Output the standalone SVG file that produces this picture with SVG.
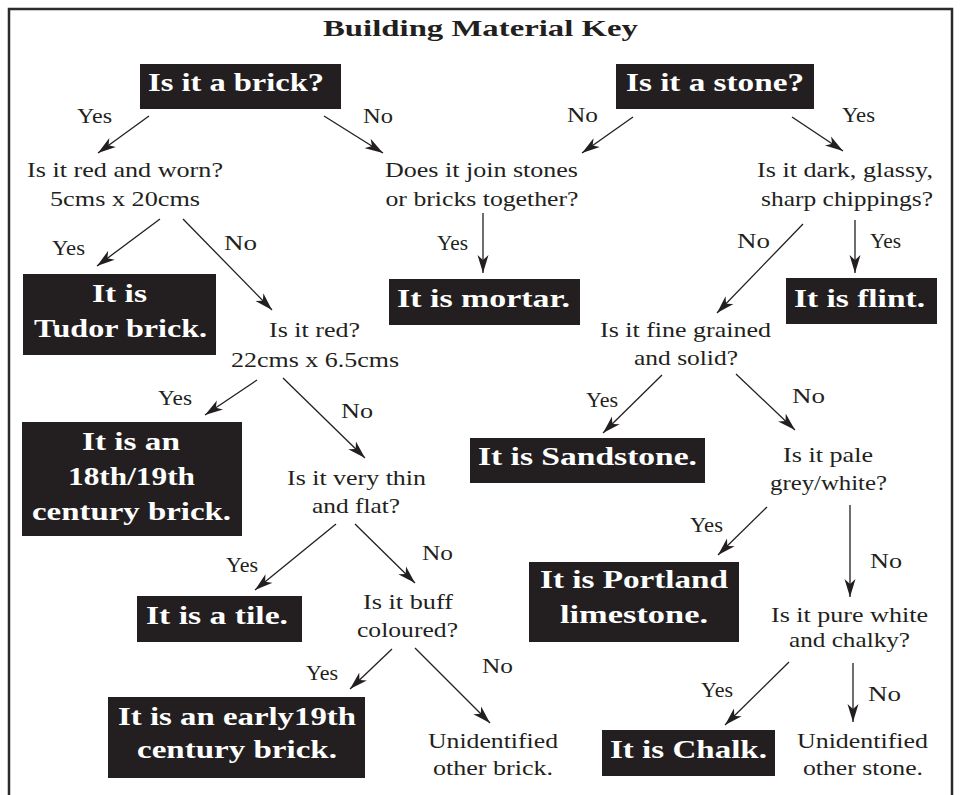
<svg xmlns="http://www.w3.org/2000/svg" width="960" height="795" viewBox="0 0 960 795">
<style>
.box{fill:#231f20}
.bt{font-family:"Liberation Serif","Times New Roman",serif;font-weight:bold;font-size:26px;fill:#ffffff;text-anchor:middle}
.t{font-family:"Liberation Serif","Times New Roman",serif;font-size:22px;fill:#231f20;text-anchor:middle}
.title{font-family:"Liberation Serif","Times New Roman",serif;font-weight:bold;font-size:23px;fill:#231f20;text-anchor:middle}
.c line{stroke:#231f20;stroke-width:1.3;marker-end:url(#ah)}
</style>
<defs>
<marker id="ah" markerUnits="userSpaceOnUse" markerWidth="19" markerHeight="12" refX="18" refY="6" orient="auto" viewBox="0 0 19 12">
<path d="M0,0.5 L18,6 L0,11.5 L5,6 Z" fill="#231f20"/>
</marker>
</defs>
<rect width="960" height="795" fill="#ffffff"/>
<path d="M9,795 V9 H952 V795" fill="none" stroke="#2b2b2b" stroke-width="2.5"/>
<text class="title" x="480.5" y="36" textLength="315" lengthAdjust="spacingAndGlyphs">Building Material Key</text>

<g id="connectors" class="c">
<line x1="149" y1="116" x2="98" y2="153"/>
<line x1="324" y1="116" x2="383" y2="153"/>
<line x1="633" y1="117" x2="582" y2="153"/>
<line x1="792" y1="117" x2="843" y2="151"/>
<line x1="160" y1="219" x2="97" y2="266"/>
<line x1="183" y1="219" x2="272" y2="310"/>
<line x1="483" y1="213" x2="483" y2="273"/>
<line x1="803" y1="224" x2="717" y2="313"/>
<line x1="855" y1="220" x2="855" y2="273"/>
<line x1="257" y1="380" x2="205" y2="415"/>
<line x1="283" y1="378" x2="365" y2="458"/>
<line x1="662" y1="375" x2="603" y2="433"/>
<line x1="736" y1="374" x2="795" y2="430"/>
<line x1="336" y1="524" x2="255" y2="590"/>
<line x1="355" y1="524" x2="415" y2="583"/>
<line x1="392" y1="649" x2="350" y2="689"/>
<line x1="415" y1="648" x2="490" y2="723"/>
<line x1="767" y1="507" x2="718" y2="555"/>
<line x1="850" y1="505" x2="850" y2="597"/>
<line x1="789" y1="662" x2="725" y2="725"/>
<line x1="853" y1="663" x2="853" y2="722"/>
<text class="t" x="94.5" y="123" textLength="35" lengthAdjust="spacingAndGlyphs">Yes</text>
<text class="t" x="378" y="123" textLength="30" lengthAdjust="spacingAndGlyphs">No</text>
<text class="t" x="582.5" y="122" textLength="31" lengthAdjust="spacingAndGlyphs">No</text>
<text class="t" x="858.5" y="122" textLength="33" lengthAdjust="spacingAndGlyphs">Yes</text>
<text class="t" x="68.5" y="255" textLength="33" lengthAdjust="spacingAndGlyphs">Yes</text>
<text class="t" x="240.5" y="250" textLength="33" lengthAdjust="spacingAndGlyphs">No</text>
<text class="t" x="452.5" y="250" textLength="31" lengthAdjust="spacingAndGlyphs">Yes</text>
<text class="t" x="753.5" y="248" textLength="33" lengthAdjust="spacingAndGlyphs">No</text>
<text class="t" x="885.5" y="248" textLength="31" lengthAdjust="spacingAndGlyphs">Yes</text>
<text class="t" x="175" y="405" textLength="34" lengthAdjust="spacingAndGlyphs">Yes</text>
<text class="t" x="357" y="418" textLength="32" lengthAdjust="spacingAndGlyphs">No</text>
<text class="t" x="602" y="407" textLength="32" lengthAdjust="spacingAndGlyphs">Yes</text>
<text class="t" x="808.5" y="403" textLength="33" lengthAdjust="spacingAndGlyphs">No</text>
<text class="t" x="706.5" y="532" textLength="33" lengthAdjust="spacingAndGlyphs">Yes</text>
<text class="t" x="242" y="572" textLength="32" lengthAdjust="spacingAndGlyphs">Yes</text>
<text class="t" x="437.5" y="560" textLength="31" lengthAdjust="spacingAndGlyphs">No</text>
<text class="t" x="886" y="568" textLength="32" lengthAdjust="spacingAndGlyphs">No</text>
<text class="t" x="497.5" y="673" textLength="31" lengthAdjust="spacingAndGlyphs">No</text>
<text class="t" x="322" y="680" textLength="32" lengthAdjust="spacingAndGlyphs">Yes</text>
<text class="t" x="717" y="697" textLength="32" lengthAdjust="spacingAndGlyphs">Yes</text>
<text class="t" x="884.5" y="701" textLength="33" lengthAdjust="spacingAndGlyphs">No</text>
</g>

<g id="q-brick">
<rect class="box" x="140" y="64" width="201" height="45"/>
<text class="bt" x="236" y="91" textLength="176" lengthAdjust="spacingAndGlyphs">Is it a brick?</text>
</g>
<g id="q-stone">
<rect class="box" x="616" y="64" width="198" height="45"/>
<text class="bt" x="715" y="91" textLength="178" lengthAdjust="spacingAndGlyphs">Is it a stone?</text>
</g>
<g id="q-red-worn">
<text class="t" x="125" y="177" textLength="196" lengthAdjust="spacingAndGlyphs">Is it red and worn?</text>
<text class="t" x="125" y="206" textLength="150" lengthAdjust="spacingAndGlyphs">5cms x 20cms</text>
</g>
<g id="q-join">
<text class="t" x="481.5" y="177" textLength="193" lengthAdjust="spacingAndGlyphs">Does it join stones</text>
<text class="t" x="482" y="206" textLength="193" lengthAdjust="spacingAndGlyphs">or bricks together?</text>
</g>
<g id="q-dark">
<text class="t" x="845" y="177" textLength="176" lengthAdjust="spacingAndGlyphs">Is it dark, glassy,</text>
<text class="t" x="847" y="206" textLength="172" lengthAdjust="spacingAndGlyphs">sharp chippings?</text>
</g>
<g id="a-tudor">
<rect class="box" x="23" y="274" width="193" height="81"/>
<text class="bt" x="119.5" y="302" textLength="55" lengthAdjust="spacingAndGlyphs">It is</text>
<text class="bt" x="120.5" y="337" textLength="173" lengthAdjust="spacingAndGlyphs">Tudor brick.</text>
</g>
<g id="a-mortar">
<rect class="box" x="389" y="279" width="191" height="46"/>
<text class="bt" x="483.5" y="307" textLength="173" lengthAdjust="spacingAndGlyphs">It is mortar.</text>
</g>
<g id="a-flint">
<rect class="box" x="786" y="278" width="151" height="46"/>
<text class="bt" x="859.5" y="307" textLength="131" lengthAdjust="spacingAndGlyphs">It is flint.</text>
</g>
<g id="q-red22">
<text class="t" x="314.5" y="337" textLength="91" lengthAdjust="spacingAndGlyphs">Is it red?</text>
<text class="t" x="315" y="367" textLength="168" lengthAdjust="spacingAndGlyphs">22cms x 6.5cms</text>
</g>
<g id="q-fine">
<text class="t" x="685.5" y="337" textLength="171" lengthAdjust="spacingAndGlyphs">Is it fine grained</text>
<text class="t" x="686" y="365" textLength="104" lengthAdjust="spacingAndGlyphs">and solid?</text>
</g>
<g id="a-18th">
<rect class="box" x="22" y="422" width="220" height="114"/>
<text class="bt" x="131" y="450" textLength="98" lengthAdjust="spacingAndGlyphs">It is an</text>
<text class="bt" x="131.5" y="485" textLength="127" lengthAdjust="spacingAndGlyphs">18th/19th</text>
<text class="bt" x="131.5" y="520" textLength="199" lengthAdjust="spacingAndGlyphs">century brick.</text>
</g>
<g id="a-sandstone">
<rect class="box" x="470" y="438" width="235" height="45"/>
<text class="bt" x="587.5" y="465" textLength="219" lengthAdjust="spacingAndGlyphs">It is Sandstone.</text>
</g>
<g id="q-pale">
<text class="t" x="828" y="462" textLength="90" lengthAdjust="spacingAndGlyphs">Is it pale</text>
<text class="t" x="828.5" y="490" textLength="117" lengthAdjust="spacingAndGlyphs">grey/white?</text>
</g>
<g id="q-thin">
<text class="t" x="356.5" y="485" textLength="139" lengthAdjust="spacingAndGlyphs">Is it very thin</text>
<text class="t" x="356" y="513" textLength="88" lengthAdjust="spacingAndGlyphs">and flat?</text>
</g>
<g id="a-portland">
<rect class="box" x="529" y="562" width="210" height="80"/>
<text class="bt" x="634" y="588" textLength="188" lengthAdjust="spacingAndGlyphs">It is Portland</text>
<text class="bt" x="634" y="623" textLength="148" lengthAdjust="spacingAndGlyphs">limestone.</text>
</g>
<g id="a-tile">
<rect class="box" x="137" y="596" width="165" height="46"/>
<text class="bt" x="217" y="624" textLength="142" lengthAdjust="spacingAndGlyphs">It is a tile.</text>
</g>
<g id="q-buff">
<text class="t" x="408" y="609" textLength="90" lengthAdjust="spacingAndGlyphs">Is it buff</text>
<text class="t" x="407.5" y="637" textLength="101" lengthAdjust="spacingAndGlyphs">coloured?</text>
</g>
<g id="q-chalky">
<text class="t" x="849.5" y="622" textLength="157" lengthAdjust="spacingAndGlyphs">Is it pure white</text>
<text class="t" x="849.5" y="647" textLength="121" lengthAdjust="spacingAndGlyphs">and chalky?</text>
</g>
<g id="a-early19th">
<rect class="box" x="108" y="697" width="257" height="81"/>
<text class="bt" x="237" y="725" textLength="238" lengthAdjust="spacingAndGlyphs">It is an early19th</text>
<text class="bt" x="237" y="758" textLength="200" lengthAdjust="spacingAndGlyphs">century brick.</text>
</g>
<g id="a-other-brick">
<text class="t" x="493" y="748" textLength="130" lengthAdjust="spacingAndGlyphs">Unidentified</text>
<text class="t" x="493" y="775" textLength="120" lengthAdjust="spacingAndGlyphs">other brick.</text>
</g>
<g id="a-chalk">
<rect class="box" x="602" y="730" width="173" height="46"/>
<text class="bt" x="688.5" y="758" textLength="157" lengthAdjust="spacingAndGlyphs">It is Chalk.</text>
</g>
<g id="a-other-stone">
<text class="t" x="862.5" y="748" textLength="131" lengthAdjust="spacingAndGlyphs">Unidentified</text>
<text class="t" x="863" y="775" textLength="120" lengthAdjust="spacingAndGlyphs">other stone.</text>
</g>
</svg>
